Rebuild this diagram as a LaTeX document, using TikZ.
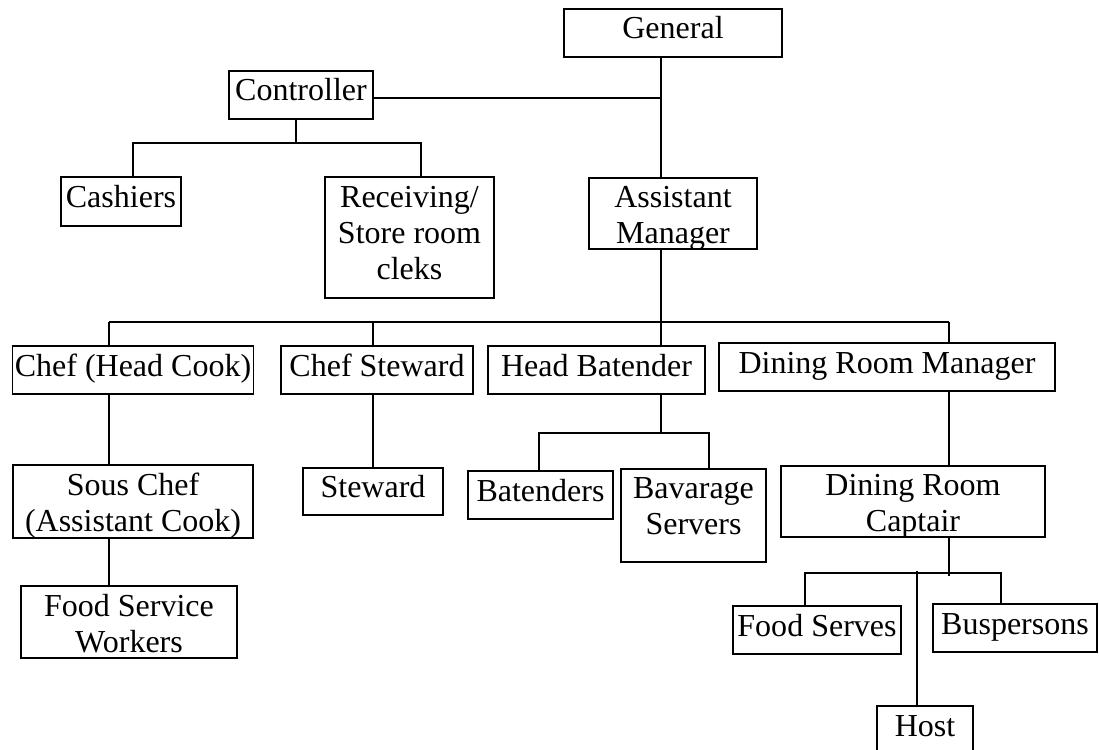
\documentclass[tikz,border=0pt]{standalone}
\usepackage{fontspec}
\setmainfont{Liberation Serif}
% centred lines stacked 36pt apart; the stack's baseline is that of its first line
\newcommand\boxlines[1]{\vtop{\baselineskip=36pt\lineskiplimit=-50pt
  \halign{\hfil##\hfil\cr#1\crcr}}}
\begin{document}
\begin{tikzpicture}[x=1pt,y=-1pt,
  box/.style={draw, line width=1.4pt, inner sep=0pt,
    font=\fontsize{32}{36}\selectfont, text height=24pt, text depth=12pt},
  % text height/depth of a stack: first baseline placed in the box
  lines/.style 2 args={text height=#1, text depth=#2},
  link/.style={line width=1.4pt}]
\useasboundingbox (0,0) rectangle (1099,749);
\clip (0,0) rectangle (1099,749);

% top levels
\node[box, minimum width=218pt, minimum height=48pt] (gen)  at (673,33)    {General};
\node[box, minimum width=144pt, minimum height=48pt] (ctrl) at (301,95)    {Controller};
\node[box, minimum width=120pt, minimum height=49pt] (cash) at (121,201.5) {Cashiers};
\node[box, lines={30pt}{91pt}, minimum width=169pt, minimum height=121pt] (recv) at (409.5,237.5) {\boxlines{Receiving/\cr Store room\cr cleks}};
\node[box, lines={29pt}{42pt}, minimum width=168pt, minimum height=71pt] (am) at (673,213.5) {\boxlines{Assistant\cr Manager}};

% department heads
\node[box, minimum width=241pt, minimum height=48pt] (chef) at (133,370)   {Chef (Head Cook)};
\node[box, minimum width=192pt, minimum height=48pt] (cs)   at (377,370)   {Chef Steward};
\node[box, minimum width=217pt, minimum height=48pt] (hb)   at (596.5,370) {Head Batender};
\node[box, minimum width=336pt, minimum height=48pt] (drm)  at (887,367)   {Dining Room Manager};

% staff
\node[box, lines={30pt}{43pt}, minimum width=240pt, minimum height=73pt] (sous) at (133,501.5) {\boxlines{Sous Chef\cr (Assistant Cook)}};
\node[box, minimum width=140pt, minimum height=47pt] (stw)  at (373,491.5) {Steward};
\node[box, minimum width=145pt, minimum height=48pt] (bat)  at (540.5,495) {Batenders};
\node[box, lines={29pt}{64pt}, minimum width=145pt, minimum height=93pt] (bav) at (693.5,515.5) {\boxlines{Bavarage\cr Servers}};
\node[box, lines={29pt}{42pt}, minimum width=264pt, minimum height=71pt] (cap) at (913,501.5) {\boxlines{Dining Room\cr Captair}};
\node[box, lines={30pt}{42pt}, minimum width=216pt, minimum height=72pt] (fsw) at (129,622) {\boxlines{Food Service\cr Workers}};
\node[box, minimum width=168pt, minimum height=48pt] (fs)   at (817,630)   {Food Serves};
\node[box, minimum width=164pt, minimum height=48pt] (bus)  at (1015,628)  {Buspersons};
\node[box, minimum width=96pt, minimum height=48pt] (host) at (925,730)   {Host};

% junction points of the connectors
\coordinate (tk)   at (661,98);
\coordinate (cb)   at (296,143);
\coordinate (cL)   at (133,143);
\coordinate (cR)   at (421,143);
\coordinate (jc)   at (109,322);
\coordinate (jcs)  at (373,322);
\coordinate (jhb)  at (661,322);
\coordinate (jdrm) at (949,322);
\coordinate (hbB)  at (661,433);
\coordinate (batB) at (539,433);
\coordinate (bavB) at (709,433);
\coordinate (capB) at (949,573);
\coordinate (fsB)  at (805,573);
\coordinate (busB) at (1001,573);
\coordinate (hostB) at (917,571);

% General -- Controller -- Assistant Manager
\draw[link] (gen.south -| tk) -- (am.north -| tk);
\draw[link] (ctrl.east |- tk) -- (tk);

% Controller branch
\draw[link] (ctrl.south -| cb) -- (cb);
\draw[link] (cash.north -| cL) -- (cL) -- (cR) -- (recv.north -| cR);

% Assistant Manager branch
\draw[link] (am.south -| jhb) -- (jhb);
\draw[link] (jc) -- (jdrm);
\draw[link] (jc) -- (chef.north -| jc);
\draw[link] (jcs) -- (cs.north -| jcs);
\draw[link] (jhb) -- (hb.north -| jhb);
\draw[link] (jdrm) -- (drm.north -| jdrm);

% kitchen
\draw[link] (chef.south -| jc) -- (sous.north -| jc);
\draw[link] (sous.south -| jc) -- (fsw.north -| jc);
\draw[link] (cs.south -| jcs) -- (stw.north -| jcs);

% bar
\draw[link] (hb.south -| hbB) -- (hbB);
\draw[link] (bat.north -| batB) -- (batB) -- (bavB) -- (bav.north -| bavB);

% dining room
\draw[link] (drm.south -| jdrm) -- (cap.north -| jdrm);
\draw[link] (cap.south -| capB) -- ([yshift=-3pt]capB);
\draw[link] (fs.north -| fsB) -- (fsB) -- (busB) -- (bus.north -| busB);
\draw[link] (hostB) -- (host.north -| hostB);
\end{tikzpicture}
\end{document}
